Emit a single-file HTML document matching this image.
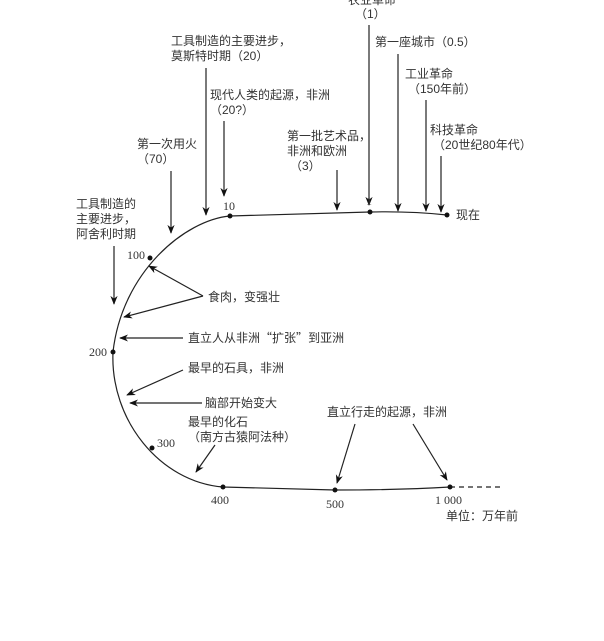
<!DOCTYPE html>
<html><head><meta charset="utf-8"><style>
body{margin:0;background:#fff;}
svg{display:block}
text{font-family:"Liberation Sans","Noto Sans CJK SC",sans-serif;font-size:12px;fill:#333}
.n{font-family:"Liberation Serif","Noto Serif CJK SC",serif;font-size:12px}
.c{font-family:"Noto Sans CJK SC",sans-serif}
</style></head><body>
<svg width="604" height="641" viewBox="0 0 604 641" xmlns="http://www.w3.org/2000/svg">
<defs><marker id="a" viewBox="0 0 10 10" refX="9" refY="5" markerWidth="9" markerHeight="9" orient="auto" markerUnits="userSpaceOnUse"><path d="M0,1 L10,5 L0,9 L3,5 z" fill="#111"/></marker></defs>
<g fill="none" stroke="#222" stroke-width="1.2">
<path d="M447,215 Q410,211 370,212 L230,216 C185,220 122,272 113,352 C110,420 160,482 223,487 L335,490 Q400,490 450,487"/>
<path d="M450,487 L500,487" stroke-dasharray="5,4"/>
</g>
<g fill="#111"><circle cx="447" cy="215" r="2.5"/><circle cx="370" cy="212" r="2.5"/><circle cx="230" cy="216" r="2.5"/><circle cx="150" cy="258" r="2.5"/><circle cx="113" cy="352" r="2.5"/><circle cx="152" cy="448" r="2.5"/><circle cx="223" cy="487" r="2.5"/><circle cx="335" cy="490" r="2.5"/><circle cx="450" cy="487" r="2.5"/></g>
<g stroke="#222" stroke-width="1.2" marker-end="url(#a)">
<line x1="369" y1="25" x2="369" y2="205"/>
<line x1="398" y1="54" x2="398" y2="211"/>
<line x1="426" y1="100" x2="426" y2="211"/>
<line x1="441" y1="156" x2="441" y2="212"/>
<line x1="337" y1="170" x2="337" y2="210"/>
<line x1="224" y1="121" x2="224" y2="196"/>
<line x1="206" y1="68" x2="206" y2="215"/>
<line x1="171" y1="171" x2="171" y2="233"/>
<line x1="114" y1="246" x2="114" y2="304"/>
<line x1="203" y1="296" x2="149" y2="266"/>
<line x1="203" y1="296" x2="124" y2="317"/>
<line x1="183" y1="338" x2="120" y2="338"/>
<line x1="183" y1="370" x2="127" y2="395"/>
<line x1="202" y1="403" x2="130" y2="403"/>
<line x1="215" y1="445" x2="196" y2="472"/>
<line x1="355" y1="424" x2="337" y2="483"/>
<line x1="413" y1="424" x2="447" y2="480"/>
</g>
<text x="348" y="4">农业革命</text>
<text x="355" y="18">（1）</text>
<text x="375" y="46">第一座城市（0.5）</text>
<text x="405" y="78">工业革命</text>
<text x="408" y="93">（150年前）</text>
<text x="430" y="134">科技革命</text>
<text x="433" y="149">（20世纪80年代）</text>
<text x="287" y="140">第一批艺术品，</text>
<text x="287" y="155">非洲和欧洲</text>
<text x="290" y="170">（3）</text>
<text x="171" y="45">工具制造的主要进步，</text>
<text x="171" y="60">莫斯特时期（20）</text>
<text x="210" y="99">现代人类的起源，非洲</text>
<text x="210" y="114">（20?）</text>
<text x="137" y="148">第一次用火</text>
<text x="137" y="163">（70）</text>
<text x="76" y="208">工具制造的</text>
<text x="76" y="223">主要进步，</text>
<text x="76" y="238">阿舍利时期</text>
<text x="208" y="301">食肉，变强壮</text>
<text x="188" y="342">直立人从非洲<tspan class="c">“</tspan>扩张<tspan class="c">”</tspan>到亚洲</text>
<text x="188" y="372">最早的石具，非洲</text>
<text x="205" y="407">脑部开始变大</text>
<text x="188" y="426">最早的化石</text>
<text x="188" y="441">（南方古猿阿法种）</text>
<text x="327" y="416">直立行走的起源，非洲</text>
<text x="456" y="219">现在</text>
<text x="446" y="520">单位：万年前</text>
<text class="n" x="223" y="210">10</text>
<text class="n" x="366" y="205">1</text>
<text class="n" x="127" y="259">100</text>
<text class="n" x="89" y="356">200</text>
<text class="n" x="157" y="447">300</text>
<text class="n" x="211" y="504">400</text>
<text class="n" x="326" y="508">500</text>
<text class="n" x="435" y="504">1 000</text>
</svg>
</body></html>
